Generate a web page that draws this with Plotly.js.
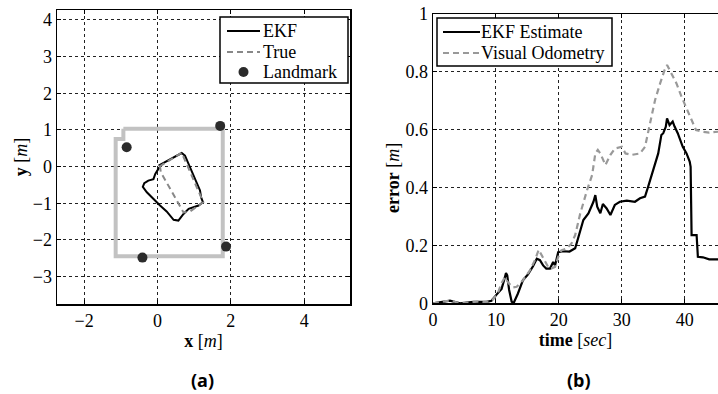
<!DOCTYPE html>
<html>
<head>
<meta charset="utf-8">
<script src="https://cdn.plot.ly/plotly-3.0.1.min.js"></script>
<style>
  html, body { margin: 0; padding: 0; background: #fff; overflow: hidden; }
  #chart { width: 718px; height: 394px; }
</style>
</head>
<body>
<div id="chart"></div>
<script>
// (a) room outline, landmarks and trajectories, in metres
const wallX = [-0.93, 1.78, 1.78, -1.14, -1.14, -0.93, -0.93];
const wallY = [1.03, 1.03, -2.44, -2.44, 0.75, 0.75, 1.03];

const landmarkX = [1.71, -0.84, 1.87, -0.41];
const landmarkY = [1.11, 0.53, -2.18, -2.48];

const ekfX = [0.03, 0.66, 0.75, 0.89, 1.03, 1.16, 1.19, 1.24, 1.12, 0.98, 0.85, 0.71, 0.57, 0.44, 0.36, 0.25, 0.07, -0.11, -0.29, -0.40, -0.36, -0.25, -0.11, -0.06, 0.00, 0.05];
const ekfY = [0.03, 0.37, 0.30, -0.02, -0.34, -0.65, -0.84, -0.97, -1.06, -1.11, -1.15, -1.29, -1.47, -1.45, -1.34, -1.22, -1.06, -0.88, -0.70, -0.55, -0.45, -0.38, -0.34, -0.20, -0.11, -0.02];

const trueX = [0.05, 0.66, 1.25, 0.89, 0.71, 0.09, 0.07];
const trueY = [0.00, 0.38, -0.97, -1.22, -1.25, -0.15, 0.00];

// (b) position error over time
const ekfTime = [0, 1.1, 2.7, 4.3, 6.4, 8.5, 9.3, 10.1, 10.9, 11.3, 11.6, 11.8, 12.1, 12.5, 12.8, 13.5, 14.3, 15.1, 15.9, 16.5, 17.0, 17.5, 18.0, 18.6, 19.1, 19.4, 19.9, 20.7, 21.7, 22.6, 23.4, 23.9, 24.7, 25.5, 25.8, 26.1, 26.6, 27.0, 27.6, 28.2, 28.9, 29.7, 30.8, 32.1, 32.9, 33.7, 34.2, 35.0, 35.8, 36.3, 36.6, 37.0, 37.2, 37.6, 38.1, 38.4, 38.9, 39.7, 40.3, 40.8, 40.95, 41.1, 41.4, 41.9, 42.1, 42.9, 43.9, 45.3];
const ekfError = [0, 0.003, 0.009, 0, 0.005, 0.005, 0.009, 0.03, 0.05, 0.08, 0.105, 0.097, 0.046, 0.006, 0, 0.034, 0.08, 0.10, 0.128, 0.154, 0.149, 0.131, 0.12, 0.12, 0.143, 0.131, 0.177, 0.18, 0.179, 0.19, 0.253, 0.288, 0.311, 0.351, 0.374, 0.334, 0.311, 0.343, 0.328, 0.305, 0.34, 0.351, 0.355, 0.351, 0.363, 0.369, 0.403, 0.461, 0.518, 0.582, 0.588, 0.61, 0.639, 0.616, 0.628, 0.611, 0.588, 0.541, 0.518, 0.49, 0.472, 0.236, 0.236, 0.236, 0.161, 0.159, 0.152, 0.152];

const voTime = [0, 1, 2, 3, 4, 5, 6, 7, 8, 9, 9.6, 10.3, 10.9, 11.4, 12, 12.7, 13.3, 14.3, 15.4, 16.2, 16.8, 17.3, 17.8, 18.3, 18.8, 19.4, 19.9, 20.4, 21.2, 22, 22.6, 23.4, 24.5, 25.3, 25.8, 26.2, 26.6, 27.4, 28.2, 28.9, 30, 30.6, 31.6, 32.9, 33.7, 34.5, 35.3, 36.1, 36.8, 37.2, 37.9, 38.7, 39.5, 40.3, 41.1, 41.8, 42.9, 43.9, 45.3];
const voError = [0, 0.003, 0.008, 0.008, 0.002, 0.001, 0.004, 0.006, 0.004, 0.006, 0.015, 0.035, 0.07, 0.09, 0.07, 0.055, 0.057, 0.08, 0.114, 0.149, 0.185, 0.166, 0.143, 0.126, 0.12, 0.126, 0.16, 0.183, 0.189, 0.206, 0.236, 0.31, 0.392, 0.444, 0.518, 0.53, 0.518, 0.478, 0.513, 0.535, 0.541, 0.518, 0.513, 0.518, 0.541, 0.622, 0.703, 0.76, 0.806, 0.824, 0.795, 0.76, 0.714, 0.674, 0.628, 0.599, 0.593, 0.59, 0.593];

// legend entries for each panel
const legendA = ['EKF', 'True', 'Landmark'];
const legendB = ['EKF Estimate', 'Visual Odometry'];

const serif = 'Liberation Serif';
const sans = 'Open Sans';
const W = 718, H = 394;
const px = v => v / W;          // horizontal pixel -> paper
const py = v => 1 - v / H;      // vertical pixel (from top) -> paper

const ekfLine = { color: '#000', width: 2 };
const trueLine = { color: '#888', width: 2, dash: '6px,4px' };
const voLine = { color: '#999', width: 2.2, dash: '6px,4px' };
const landmarkColor = '#2b2b2b';

const traces = [
  { x: wallX, y: wallY, mode: 'lines', line: { color: '#c2c2c2', width: 4 },
    hoverinfo: 'skip', xaxis: 'x', yaxis: 'y' },
  { x: ekfX, y: ekfY, mode: 'lines', name: legendA[0], line: ekfLine, xaxis: 'x', yaxis: 'y' },
  { x: trueX, y: trueY, mode: 'lines', name: legendA[1], line: trueLine, xaxis: 'x', yaxis: 'y' },
  { x: landmarkX, y: landmarkY, mode: 'markers', name: legendA[2],
    marker: { color: landmarkColor, size: 10 }, xaxis: 'x', yaxis: 'y' },
  { x: ekfTime, y: ekfError, mode: 'lines', name: legendB[0],
    line: { color: '#000', width: 2.2 }, xaxis: 'x2', yaxis: 'y2' },
  { x: voTime, y: voError, mode: 'lines', name: legendB[1], line: voLine, xaxis: 'x2', yaxis: 'y2' }
];

const axisBase = () => ({
  showline: true, linecolor: '#000', linewidth: 1.5,
  ticks: 'inside', ticklen: 4, tickcolor: '#000', tickwidth: 1,
  showgrid: true, gridcolor: '#222', gridwidth: 1, griddash: '3px,3px',
  zeroline: false, tickfont: { family: serif, size: 18, color: '#000' }
});

// boxed legends built from paper-referenced shapes and labels
const shapes = [];
const annotations = [];
function boxedLegend(box, rows) {
  shapes.push({ type: 'rect', xref: 'paper', yref: 'paper',
    x0: px(box.x0), x1: px(box.x1), y0: py(box.y0), y1: py(box.y1),
    fillcolor: '#fff', line: { color: '#000', width: 1.5 } });
  rows.forEach(r => {
    if (r.marker) {
      const cx = (box.sx0 + box.sx1) / 2;
      shapes.push({ type: 'circle', xref: 'paper', yref: 'paper',
        x0: px(cx - 5), x1: px(cx + 5), y0: py(r.y - 5), y1: py(r.y + 5),
        fillcolor: r.marker, line: { color: r.marker, width: 0 } });
    } else {
      shapes.push({ type: 'line', xref: 'paper', yref: 'paper',
        x0: px(box.sx0), x1: px(box.sx1), y0: py(r.y), y1: py(r.y), line: r.line });
    }
    annotations.push({ text: r.text, showarrow: false, xref: 'paper', yref: 'paper',
      x: px(box.tx), y: py(r.y), xanchor: 'left', yanchor: 'middle',
      font: { family: serif, size: 18, color: '#000' } });
  });
}
boxedLegend({ x0: 220, x1: 348, y0: 17, y1: 83, sx0: 227, sx1: 260, tx: 261 }, [
  { text: legendA[0], y: 31, line: ekfLine },
  { text: legendA[1], y: 52, line: trueLine },
  { text: legendA[2], y: 72, marker: landmarkColor }
]);
boxedLegend({ x0: 437, x1: 612, y0: 18, y1: 66, sx0: 443, sx1: 480, tx: 479 }, [
  { text: legendB[0], y: 32, line: { color: '#000', width: 2.2 } },
  { text: legendB[1], y: 53, line: voLine }
]);

annotations.push(
  { text: '<b>error</b> [<i>m</i>]', textangle: -90, showarrow: false,
    xref: 'paper', yref: 'paper', x: px(393), y: py(178), xanchor: 'center', yanchor: 'middle',
    font: { family: serif, size: 18, color: '#000' } },
  { text: '<b>(a)</b>', showarrow: false, xref: 'paper', yref: 'paper',
    x: px(202), y: py(380), xanchor: 'center', yanchor: 'middle',
    font: { family: sans, size: 18, color: '#000' } },
  { text: '<b>(b)</b>', showarrow: false, xref: 'paper', yref: 'paper',
    x: px(579), y: py(380), xanchor: 'center', yanchor: 'middle',
    font: { family: sans, size: 18, color: '#000' } }
);

const titleFont = { family: serif, size: 18, color: '#000' };
const layout = {
  width: W, height: H,
  font: { family: serif, size: 18, color: '#000' },
  margin: { l: 0, r: 0, t: 0, b: 0 },
  paper_bgcolor: '#fff', plot_bgcolor: '#fff',
  showlegend: false,
  xaxis: Object.assign(axisBase(), {
    domain: [px(57), px(350)], range: [-2.74, 5.25], anchor: 'y',
    tickvals: [-2, 0, 2, 4], mirror: 'ticks',
    title: { text: '<b>x</b> [<i>m</i>]', font: titleFont, standoff: 4 }
  }),
  yaxis: Object.assign(axisBase(), {
    domain: [py(304), py(10)], range: [-3.745, 4.27], anchor: 'x',
    tickvals: [-3, -2, -1, 0, 1, 2, 3, 4], mirror: 'ticks',
    title: { text: '<b>y</b> [<i>m</i>]', font: titleFont, standoff: 0 }
  }),
  xaxis2: Object.assign(axisBase(), {
    domain: [px(433), 1], range: [0, 45.3], anchor: 'y2',
    tickvals: [0, 10, 20, 30, 40], mirror: 'ticks',
    title: { text: '<b>time</b> [<i>sec</i>]', font: titleFont, standoff: 4 }
  }),
  yaxis2: Object.assign(axisBase(), {
    domain: [py(303.3), py(14)], range: [0, 1], anchor: 'x2',
    tickvals: [0, 0.2, 0.4, 0.6, 0.8, 1], ticktext: ['0', '0.2', '0.4', '0.6', '0.8', '1']
  }),
  shapes: shapes,
  annotations: annotations
};

Plotly.newPlot('chart', traces, layout, { staticPlot: true, displayModeBar: false });
</script>
</body>
</html>
